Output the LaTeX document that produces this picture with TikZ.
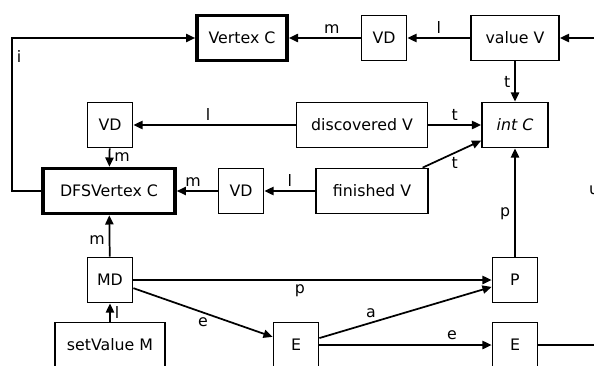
\documentclass[tikz,border=0pt]{standalone}
\usepackage{fontspec}
\setmainfont{DejaVu Sans}
\usetikzlibrary{arrows.meta}

\begin{document}
\begin{tikzpicture}[x=0.633pt, y=-0.633pt,
		box/.style={draw, line width=1.1pt, inner sep=0pt, minimum height=28.5pt, font=\fontsize{10}{12}\selectfont},
		bold/.style={box, line width=2.3pt},
		arr/.style={line width=1.1pt, -{Triangle[length=5.8pt, width=5.2pt]}},
		ln/.style={line width=1.1pt},
		lbl/.style={font=\fontsize{10}{12}\selectfont, inner sep=2.5pt}]
		\useasboundingbox (0,0) rectangle (594,365);
		\clip (0,0) rectangle (594,365);
		
		% (1) Top row
		\node[bold, minimum width=57pt] (vertexC) at (242,38) {Vertex C};
		\node[box, minimum width=28.5pt] (vdTop) at (384,38) {VD};
		\node[box, minimum width=55.7pt] (valueV) at (515,38) {value V};
		\coordinate (inTop) at (610,38);
		\draw[arr] (inTop) -- (valueV);
		\draw[arr] (valueV) -- node[lbl, above] (lTop) {l} (vdTop);
		\draw[arr] (vdTop) -- node[lbl, above, pos=0.4] (mTop) {m} (vertexC);
		
		% (2) Second row
		\node[box, minimum width=28.5pt] (vdLeft) at (110,125) {VD};
		\node[box, minimum width=83pt] (discV) at (362,125) {discovered V};
		\node[box, minimum width=41.8pt] (intC) at (515,125) {\textit{int C}};
		\draw[arr] (valueV) -- node[lbl, left] (tTop) {t} (intC);
		\draw[arr] (discV) -- node[lbl, above] (tDisc) {t} (intC);
		\draw[arr] (discV) -- node[lbl, above, pos=0.54] (lDisc) {l} (vdLeft);
		
		% (3) Third row
		\node[box, minimum width=28.5pt] (vdMid) at (241,191) {VD};
		\node[bold, minimum width=83.5pt] (dfsC) at (109,191) {DFSVertex C};
		\node[box, minimum width=71pt] (finV) at (372,191) {finished V};
		\node[lbl] (uLab) at (594,190) {u};
		\draw[arr] (vdLeft) -- node[lbl, right] (mLeft) {m} (dfsC);
		\draw[arr] (finV) -- node[lbl, below, pos=0.55] (tFin) {t} (intC);
		\draw[arr] (finV) -- node[lbl, above] (lFin) {l} (vdMid);
		\draw[arr] (vdMid) -- node[lbl, above, pos=0.6] (mMid) {m} (dfsC);
		\draw[arr] (dfsC.west) -- (12,191) |- node[lbl, right, pos=0.44] (iLab) {i} (vertexC.west);
		
		% (4) Lower rows
		\node[box, minimum width=28.5pt] (md) at (110,280) {MD};
		\node[box, minimum width=28.5pt] (pBox) at (515,280) {P};
		\node[box, minimum width=69.6pt] (setM) at (110,345) {setValue M};
		\node[box, minimum width=28.5pt] (eLeft) at (296,345) {E};
		\node[box, minimum width=28.5pt] (eRight) at (515,345) {E};
		\coordinate (outBot) at (610,345);
		\draw[arr] (md) -- node[lbl, left, pos=0.4] (mMd) {m} (dfsC);
		\draw[arr] (setM) -- node[lbl, right] (lSet) {l} (md);
		\draw[arr] (md) -- node[lbl, below, pos=0.465] (pMd) {p} (pBox);
		\draw[arr] (md) -- node[lbl, below, pos=0.5] (eMd) {e} (eLeft);
		\draw[arr] (eLeft) -- node[lbl, above, pos=0.3] (aLab) {a} (pBox);
		\draw[arr] (eLeft) -- node[lbl, above, pos=0.77] (eLab) {e} (eRight);
		\draw[arr] (pBox) -- node[lbl, left, pos=0.4] (pLab) {p} (intC);
		\draw[ln] (eRight) -- (outBot);
	\end{tikzpicture}
\end{document}
